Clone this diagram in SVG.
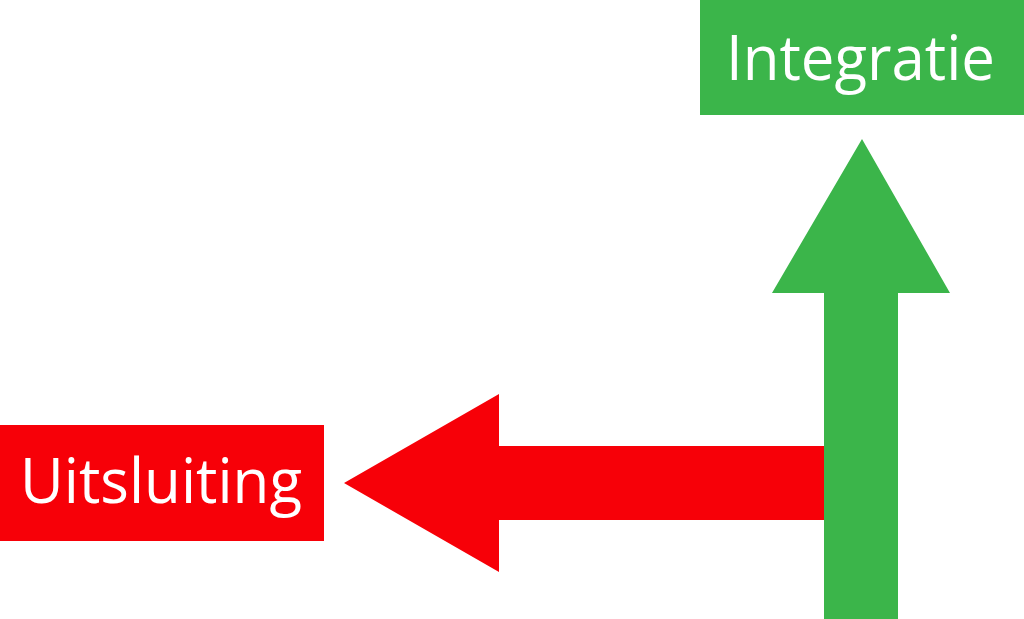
<svg xmlns="http://www.w3.org/2000/svg" width="1024" height="619" viewBox="0 0 1024 619">
  <style>
    .lbl { font-family: "Open Sans", "Noto Sans", "Liberation Sans", sans-serif; font-size: 62px; fill: #ffffff; }
    .green { fill: #3bb54a; }
    .red { fill: #f70008; }
  </style>
  <rect width="1024" height="619" fill="#ffffff"/>
  <g id="connectors">
    <polygon class="red" points="824,446 499,446 499,394 344,483 499,572 499,520 824,520"/>
    <polygon class="green" points="824,619 824,293 772,293 862,139 950,293 898,293 898,619"/>
  </g>
  <g id="integratie">
    <rect class="green" x="700" y="0" width="324" height="115"/>
    <text class="lbl" x="726" y="80" textLength="269" lengthAdjust="spacingAndGlyphs">Integratie</text>
  </g>
  <g id="uitsluiting">
    <rect class="red" x="0" y="425" width="324" height="116"/>
    <text class="lbl" x="20" y="503" textLength="282" lengthAdjust="spacingAndGlyphs">Uitsluiting</text>
  </g>
</svg>
